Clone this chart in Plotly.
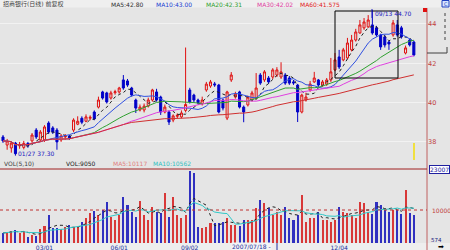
import plotly.graph_objects as go
import pandas as pd

# ---------------- data ----------------
opens = [
    38.25, 37.84, 37.69, 37.94, 37.80, 37.72, 37.92, 38.05, 38.60, 38.10,
    38.10, 38.96, 38.71, 38.60, 38.10, 38.25, 38.30, 38.60, 38.90, 39.20,
    39.05, 39.20, 39.52, 39.77, 40.54, 40.49, 40.23, 40.50, 40.54, 41.15,
    41.10, 40.74, 40.13, 39.62, 39.62, 39.82, 40.13, 40.54, 40.28, 39.52,
    39.52, 39.11, 39.30, 39.27, 39.60, 40.64, 40.38, 40.13, 39.93, 40.64,
    40.84, 40.95, 40.89, 40.13, 39.21, 41.15, 40.28, 40.54, 39.77, 39.88,
    40.13, 40.23, 41.40, 41.15, 41.25, 41.30, 41.40, 41.30, 41.40, 41.25,
    41.05, 40.89, 39.52, 40.13, 40.64, 41.05, 41.15, 40.89, 40.94, 41.15,
    41.66, 42.32, 42.17, 42.27, 42.68, 43.18, 43.54, 43.80, 43.85, 43.95,
    43.80, 43.44, 43.34, 43.08, 43.44, 43.95, 43.80, 42.52, 43.18, 43.08]
closes = [
    38.05, 38.05, 37.94, 37.40, 37.85, 37.92, 37.80, 38.35, 38.25, 38.50,
    38.76, 38.50, 38.50, 38.00, 38.30, 38.30, 38.20, 39.11, 39.05, 39.00,
    39.27, 39.25, 39.17, 40.13, 40.23, 40.03, 40.49, 40.55, 40.74, 40.74,
    40.89, 40.38, 39.72, 39.77, 39.82, 40.13, 40.64, 40.13, 39.52, 39.77,
    39.01, 39.32, 39.35, 39.47, 39.90, 40.03, 40.13, 39.98, 40.13, 40.94,
    41.05, 40.90, 39.52, 39.72, 40.54, 41.40, 40.43, 39.77, 39.52, 40.28,
    40.49, 40.74, 40.99, 41.56, 41.05, 41.66, 41.66, 41.56, 40.99, 40.99,
    41.00, 39.52, 40.38, 40.28, 40.94, 41.25, 40.89, 41.05, 41.15, 41.56,
    42.17, 41.81, 42.68, 43.03, 43.18, 43.59, 43.95, 44.10, 44.20, 43.54,
    43.44, 42.83, 42.93, 42.98, 44.05, 43.44, 43.34, 42.78, 42.93, 42.42]
highs = [
    38.35, 38.15, 38.00, 38.00, 38.00, 38.05, 38.00, 38.45, 38.70, 38.60,
    38.85, 39.05, 38.80, 38.70, 38.40, 38.40, 38.35, 39.20, 39.30, 39.30,
    39.40, 39.35, 39.60, 40.30, 40.60, 40.55, 40.60, 40.65, 40.80, 41.40,
    41.20, 40.80, 40.20, 39.90, 39.95, 40.25, 40.70, 40.70, 40.35, 39.90,
    39.60, 39.40, 39.45, 39.60, 42.80, 40.75, 40.45, 40.20, 40.30, 41.05,
    41.15, 41.05, 40.95, 40.20, 40.60, 41.55, 40.55, 40.60, 39.85, 40.35,
    40.60, 41.50, 41.50, 41.65, 41.35, 41.75, 41.80, 42.05, 41.50, 41.35,
    41.15, 40.95, 40.45, 40.50, 41.10, 41.56, 41.20, 41.15, 41.25, 42.27,
    42.52, 42.68, 42.78, 43.29, 43.44, 43.75, 44.20, 44.30, 44.45, 44.70,
    43.90, 43.50, 43.45, 43.15, 44.20, 44.20, 43.90, 42.90, 43.25, 43.15]
lows = [
    37.95, 37.60, 37.45, 37.30, 37.65, 37.62, 37.70, 37.95, 38.15, 38.00,
    38.00, 38.40, 38.40, 37.60, 38.00, 38.10, 38.10, 38.50, 38.85, 38.90,
    39.00, 39.10, 39.10, 39.70, 40.15, 39.95, 40.15, 40.40, 40.45, 40.65,
    40.80, 40.30, 39.47, 39.55, 39.50, 39.75, 40.05, 40.05, 39.37, 39.45,
    38.86, 39.00, 39.20, 39.20, 39.50, 39.95, 40.00, 39.90, 39.85, 40.55,
    40.75, 40.80, 39.45, 39.60, 39.11, 41.05, 40.20, 39.70, 39.00, 39.80,
    40.05, 40.15, 40.90, 41.05, 40.95, 41.20, 41.30, 41.20, 40.90, 40.90,
    40.90, 39.01, 39.45, 40.05, 40.55, 41.00, 40.80, 40.80, 40.85, 41.05,
    41.60, 41.70, 42.10, 42.20, 42.60, 43.10, 43.50, 43.70, 43.80, 43.45,
    43.35, 42.68, 42.80, 42.68, 43.35, 43.35, 43.25, 42.45, 42.85, 42.35]
volumes = [
    3600, 3900, 4200, 4500, 3600, 4200, 2400, 3000, 2700, 4800,
    5700, 9050, 5100, 5100, 4800, 5400, 6000, 5400, 5400, 6900,
    8150, 9700, 10300, 9050, 10570, 13000, 8450, 7500, 9050, 14500,
    12000, 9950, 8450, 13300, 9050, 7500, 11500, 9950, 9650, 15700,
    8450, 14500, 9050, 8150, 9050, 22400, 21800, 5400, 5100, 5400,
    6600, 6600, 6600, 6900, 8150, 6000, 6000, 5700, 7500, 7500,
    7500, 11200, 13600, 12700, 11200, 9050, 9950, 9050, 11500, 8150,
    7500, 9050, 15100, 6900, 8150, 8150, 9950, 7500, 7500, 6900,
    7500, 11500, 9950, 9650, 9050, 8150, 13000, 12700, 9950, 9350,
    13000, 12100, 10570, 9950, 10570, 10570, 9350, 16600, 9650, 9050]

price_ticks = [38, 40, 42, 44]
price_tick_text = ["38", "40", "42", "44"]
date_tick_pos = [10, 28, 45, 81]
date_tick_text = ["03/01", "06/01", "09/02", "12/04"]
title_items = [("招商银行(日线) 前复权", "#404040"), ("MA5:42.80", "#303030"),
               ("MA10:43.00", "#2040d0"), ("MA20:42.31", "#30a030"),
               ("MA30:42.02", "#e040a0"), ("MA60:41.575", "#e02020")]
vol_items = [("VOL(5,10)", "#404040"), ("VOL:9050", "#202020"),
             ("MA5:10117", "#e08080"), ("MA10:10562", "#30c0c0")]

# ---------------- helpers ----------------
W, H = 450, 250
def px(x): return x / W
def py(y): return 1 - y / H

idx = list(range(len(opens)))
def ma(arr, n):
    return pd.Series(arr).rolling(n, min_periods=1).mean().tolist()

BG = "#e5e5e5"
fig = go.Figure()

fig.add_trace(go.Candlestick(
    x=idx, open=opens, high=highs, low=lows, close=closes,
    increasing=dict(line=dict(color="#e01010", width=1), fillcolor=BG),
    decreasing=dict(line=dict(color="#0000c8", width=1), fillcolor="#0000c8"),
    whiskerwidth=0, xaxis="x", yaxis="y", showlegend=False, hoverinfo="skip"))

ma_specs = [(5, "#202020", "dot"), (10, "#3050e0", "solid"), (20, "#30a030", "solid"),
            (30, "#e040e0", "solid"), (60, "#d03030", "solid")]
for n, c, d in ma_specs:
    fig.add_trace(go.Scatter(x=idx, y=ma(closes, n), mode="lines",
                             line=dict(color=c, width=1, dash=d),
                             xaxis="x", yaxis="y", showlegend=False, hoverinfo="skip"))

vcolors = ["#d83838" if c >= o else "#3030c0" for o, c in zip(opens, closes)]
fig.add_trace(go.Bar(x=idx, y=volumes, width=0.5, marker=dict(color=vcolors, line=dict(width=0)),
                     xaxis="x2", yaxis="y2", showlegend=False, hoverinfo="skip"))
fig.add_trace(go.Scatter(x=idx, y=ma(volumes, 5), mode="lines",
                         line=dict(color="#202020", width=1, dash="dot"),
                         xaxis="x2", yaxis="y2", showlegend=False, hoverinfo="skip"))
fig.add_trace(go.Scatter(x=idx, y=ma(volumes, 10), mode="lines",
                         line=dict(color="#30c8c8", width=1),
                         xaxis="x2", yaxis="y2", showlegend=False, hoverinfo="skip"))

xr = [-0.723, 102.17]
xd = [0, px(427)]
FONT = "DejaVu Sans, Noto Sans CJK SC"

shapes = [
    dict(type="rect", xref="paper", yref="paper", x0=0, x1=1, y0=py(7.5), y1=1,
         fillcolor="#efefef", line=dict(width=0), layer="below"),
    dict(type="rect", xref="paper", yref="paper", x0=0, x1=1, y0=0, y1=py(243),
         fillcolor="#eeeeee", line=dict(width=0), layer="below"),
    dict(type="line", xref="paper", yref="paper", x0=px(427), x1=px(427), y0=py(8), y1=0,
         line=dict(color="#c06060", width=1)),
    dict(type="line", xref="paper", yref="paper", x0=0, x1=px(427), y0=py(169), y1=py(169),
         line=dict(color="#a02020", width=1)),
    dict(type="line", xref="paper", yref="paper", x0=0, x1=px(427), y0=py(210), y1=py(210),
         line=dict(color="#c03030", width=1, dash="dot")),
    dict(type="rect", xref="paper", yref="paper", x0=px(335), x1=px(398), y0=py(78), y1=py(11),
         line=dict(color="#000000", width=1)),
    dict(type="rect", xref="paper", yref="paper", x0=px(423), x1=px(427), y0=py(12), y1=py(8),
         fillcolor="#e01010", line=dict(width=0)),
    dict(type="line", xref="paper", yref="paper", x0=px(414), x1=px(414), y0=py(160), y1=py(143),
         line=dict(color="#f0e040", width=2)),
    dict(type="line", xref="paper", yref="paper", x0=px(445), x1=px(445), y0=py(40), y1=py(10),
         line=dict(color="#404040", width=1, dash="dot")),
    dict(type="line", xref="paper", yref="paper", x0=px(427), x1=px(447), y0=py(53), y1=py(53),
         line=dict(color="#404040", width=1)),
    dict(type="line", xref="paper", yref="paper", x0=px(447), x1=px(447), y0=py(53), y1=py(47),
         line=dict(color="#404040", width=1)),
    dict(type="rect", xref="paper", yref="paper", x0=px(442), x1=px(449), y0=py(7), y1=py(0.5),
         fillcolor="#d8e4ff", line=dict(color="#2040c0", width=1)),
    dict(type="line", xref="paper", yref="paper", x0=px(372), x1=px(372), y0=py(18), y1=py(9),
         line=dict(color="#2020c0", width=1)),
    dict(type="line", xref="paper", yref="paper", x0=px(277), x1=px(277), y0=0, y1=py(243),
         line=dict(color="#2030a0", width=1)),
]

anns = []
def ann(text, x, y, color, size=6.5, xanchor="left", bg=None, border=None):
    d = dict(text=text, xref="paper", yref="paper", x=px(x), y=py(y), xanchor=xanchor,
             yanchor="middle", showarrow=False, font=dict(size=size, color=color, family=FONT),
             borderpad=0)
    if bg:
        d["bgcolor"] = bg
    if border:
        d["bordercolor"] = border
        d["borderwidth"] = 1
    anns.append(d)

title_x = [2, 110, 155, 205, 256, 299]
for (t, c), x in zip(title_items, title_x):
    ann(t, x, 4, c, size=6)
vol_x = [3, 65, 112, 152]
for (t, c), x in zip(vol_items, vol_x):
    ann(t, x, 163, c, size=6)

ann("09/13 44.70", 374, 13, "#2020c0", size=6)
ann("01/27 37.30", 17, 153, "#2020c0", size=6)
ann("23007", 429, 169, "#2020a0", size=6, bg="#ffffff", border="#2020a0")
ann("10000", 431, 210, "#c04040", size=6)
ann("574", 430, 239.5, "#202080", size=5.5)
ann("2007/07/18 -", 251, 246.5, "#2030a0", size=6, xanchor="center", bg="#f4f4f4")
ann("➡", 441, 247, "#000000", size=7, xanchor="center")
ann("C", 445.5, 3.8, "#2040c0", size=5, xanchor="center")

fig.update_layout(
    width=W, height=H, margin=dict(l=0, r=0, t=0, b=0),
    paper_bgcolor=BG, plot_bgcolor=BG,
    font=dict(family=FONT, size=7),
    bargap=0,
    xaxis=dict(domain=xd, range=xr, showticklabels=False, showgrid=False, zeroline=False,
               rangeslider=dict(visible=False), anchor="y", fixedrange=True),
    xaxis2=dict(domain=xd, range=xr, anchor="y2", showgrid=False, zeroline=False,
                tickmode="array", tickvals=date_tick_pos, ticktext=date_tick_text,
                ticks="", tickfont=dict(size=6, color="#2030a0"), ticklabelstandoff=0,
                fixedrange=True),
    yaxis=dict(domain=[py(158), py(8)], range=[37.18, 44.81], side="right", anchor="x",
               tickmode="array", tickvals=price_ticks, ticktext=price_tick_text,
               tickfont=dict(size=6.5, color="#c04040"), showgrid=True, gridcolor="#f2f2f2",
               zeroline=False, ticks="", automargin=False, fixedrange=True),
    yaxis2=dict(domain=[py(243), py(169)], range=[574, 23007], anchor="x2", side="right",
                showticklabels=False, showgrid=False, zeroline=False, fixedrange=True),
    shapes=shapes, annotations=anns,
)

fig.write_html("out.html")
